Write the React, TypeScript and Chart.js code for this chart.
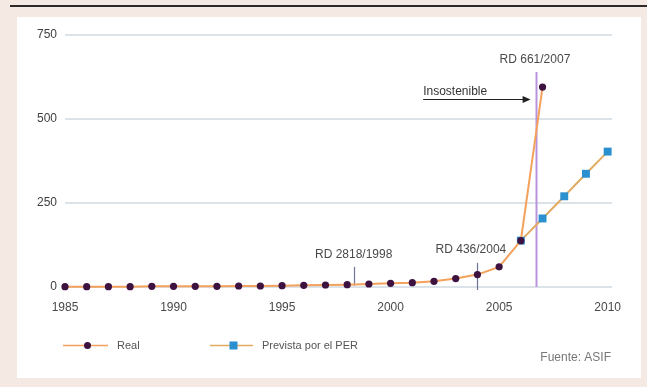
import { useEffect, useRef } from "react";
import { Chart, registerables } from "chart.js";

Chart.register(...registerables);

// Installed photovoltaic power in Spain (MW)
const years = [
  1985, 1986, 1987, 1988, 1989, 1990, 1991, 1992, 1993, 1994, 1995, 1996,
  1997, 1998, 1999, 2000, 2001, 2002, 2003, 2004, 2005, 2006, 2007,
];
const realValues = [
  1, 1, 1, 1, 2, 2, 2, 2, 3, 3, 4, 5, 6, 7, 9, 11, 13, 17, 25, 37, 60, 138, 595,
];
const plannedYears = [2006, 2007, 2008, 2009, 2010];
const plannedValues = [138, 204, 270, 337, 403];

const xTickYears = [1985, 1990, 1995, 2000, 2005, 2010];
const yTickValues = [0, 250, 500, 750];
const seriesNames = ["Real", "Prevista por el PER"];

// Regulatory decrees marked on the chart
const decreeLabels = ["RD 2818/1998", "RD 436/2004", "RD 661/2007"];
const decreeYears = [1998.3, 2004, 2006.7];
const decreeTop = [60, 72, 640];
const decreeBottom = [4, -9, 0];
const decreeLabelYears = [1998.3, 2003.7, 2006.65];
const decreeLabelValues = [95, 110, 676];

const warningText = "Insostenible";
const warningFrom = 2001.5;
const warningTo = 2006.45;
const warningValue = 560;
const sourceText = "Fuente: ASIF";

const FONT = "'Liberation Sans', Arial, sans-serif";
const REAL_LINE = "#f4a15c";
const REAL_POINT = "#3d1240";
const PLAN_LINE = "#e2ab62";
const PLAN_POINT = "#2b90cf";

const overlay = {
  id: "overlay",
  beforeDatasetsDraw(chart: any) {
    const { ctx, scales } = chart;
    const x = scales.x;
    const y = scales.y;
    ctx.save();
    decreeYears.forEach((yr, i) => {
      const px = Math.round(x.getPixelForValue(yr)) + 0.5;
      const last = i === decreeYears.length - 1;
      ctx.strokeStyle = last ? "#b693dc" : "#6d7598";
      ctx.lineWidth = last ? 2 : 1.2;
      ctx.beginPath();
      ctx.moveTo(px, y.getPixelForValue(decreeTop[i]));
      ctx.lineTo(px, y.getPixelForValue(decreeBottom[i]));
      ctx.stroke();
    });
    ctx.restore();
  },
  afterDraw(chart: any) {
    const { ctx, scales } = chart;
    const x = scales.x;
    const y = scales.y;
    ctx.save();
    ctx.font = `12px ${FONT}`;
    ctx.fillStyle = "#4a4a4a";
    ctx.textAlign = "center";
    ctx.textBaseline = "middle";
    decreeLabels.forEach((t, i) => {
      ctx.fillText(
        t,
        x.getPixelForValue(decreeLabelYears[i]),
        y.getPixelForValue(decreeLabelValues[i])
      );
    });

    // "Insostenible" with arrow pointing to the 2007 decree
    const ax0 = x.getPixelForValue(warningFrom);
    const ax1 = x.getPixelForValue(warningTo);
    const ay = Math.round(y.getPixelForValue(warningValue)) + 0.5;
    ctx.textAlign = "left";
    ctx.textBaseline = "alphabetic";
    ctx.fillStyle = "#333";
    ctx.fillText(warningText, ax0, ay - 5);
    ctx.strokeStyle = "#222";
    ctx.lineWidth = 1;
    ctx.beginPath();
    ctx.moveTo(ax0, ay);
    ctx.lineTo(ax1 - 6, ay);
    ctx.stroke();
    ctx.fillStyle = "#222";
    ctx.beginPath();
    ctx.moveTo(ax1, ay);
    ctx.lineTo(ax1 - 8, ay - 3.5);
    ctx.lineTo(ax1 - 8, ay + 3.5);
    ctx.closePath();
    ctx.fill();

    // Legend
    const ly = 345.5;
    const items = [
      { x0: 63, x1: 108, line: REAL_LINE, point: REAL_POINT, round: true },
      { x0: 210, x1: 253, line: PLAN_LINE, point: PLAN_POINT, round: false },
    ];
    ctx.font = `11px ${FONT}`;
    ctx.textBaseline = "middle";
    items.forEach((it, i) => {
      ctx.strokeStyle = it.line;
      ctx.lineWidth = 1.5;
      ctx.beginPath();
      ctx.moveTo(it.x0, ly);
      ctx.lineTo(it.x1, ly);
      ctx.stroke();
      const cx = (it.x0 + it.x1) / 2 + 2;
      ctx.fillStyle = it.point;
      if (it.round) {
        ctx.beginPath();
        ctx.arc(cx, ly, 3.5, 0, Math.PI * 2);
        ctx.fill();
      } else {
        ctx.fillRect(cx - 4, ly - 4, 8, 8);
      }
      ctx.fillStyle = "#555";
      ctx.textAlign = "left";
      ctx.fillText(seriesNames[i], it.x1 + 9, ly);
    });

    ctx.font = `12px ${FONT}`;
    ctx.fillStyle = "#777";
    ctx.textAlign = "right";
    ctx.fillText(sourceText, 611, 358);
    ctx.restore();
  },
};

export default function App() {
  const ref = useRef<HTMLCanvasElement>(null);

  useEffect(() => {
    const canvas = ref.current;
    if (!canvas) return;
    const chart = new Chart(canvas, {
      type: "line",
      data: {
        datasets: [
          {
            label: seriesNames[0],
            data: years.map((yr, i) => ({ x: yr, y: realValues[i] })),
            borderColor: REAL_LINE,
            backgroundColor: REAL_POINT,
            borderWidth: 2,
            pointRadius: 3.6,
            pointBorderWidth: 0,
            pointBackgroundColor: REAL_POINT,
            tension: 0,
            clip: false,
          },
          {
            label: seriesNames[1],
            data: plannedYears.map((yr, i) => ({ x: yr, y: plannedValues[i] })),
            borderColor: PLAN_LINE,
            backgroundColor: PLAN_POINT,
            borderWidth: 2,
            pointStyle: "rect",
            pointRadius: 5.6,
            pointBorderWidth: 0,
            pointBackgroundColor: PLAN_POINT,
            clip: false,
          },
        ],
      },
      options: {
        responsive: false,
        animation: false,
        devicePixelRatio: 1,
        layout: { padding: { left: 0, right: 35, top: 35, bottom: 50 } },
        plugins: {
          legend: { display: false },
          tooltip: { enabled: false },
        },
        scales: {
          x: {
            type: "linear",
            min: 1985,
            max: 2010.2,
            afterBuildTicks: (s: any) => {
              s.ticks = xTickYears.map((v) => ({ value: v }));
            },
            afterFit: (s: any) => {
              s.height = 50;
            },
            grid: { display: false },
            border: { display: false },
            ticks: {
              padding: 5,
              color: "#4a4a4a",
              font: { family: FONT, size: 12 },
              maxRotation: 0,
              autoSkip: false,
              callback: (v: any) => String(v),
            },
          },
          y: {
            type: "linear",
            min: 0,
            max: 750,
            afterBuildTicks: (s: any) => {
              s.ticks = yTickValues.map((v) => ({ value: v }));
            },
            afterFit: (s: any) => {
              s.width = 65;
            },
            grid: { color: "#dbe2e8", lineWidth: 2, drawTicks: false },
            border: { display: false },
            ticks: {
              padding: 8,
              color: "#3f3f3f",
              font: { family: FONT, size: 12 },
              callback: (v: any) => String(v),
            },
          },
        },
      },
      plugins: [overlay],
    } as any);
    return () => chart.destroy();
  }, []);

  return (
    <div
      style={{
        position: "fixed",
        left: 0,
        top: 0,
        width: 647,
        height: 387,
        background: "#f5eae3",
        overflow: "hidden",
      }}
    >
      <div
        style={{
          position: "absolute",
          left: 10,
          top: 5,
          width: 637,
          height: 2,
          background: "#2a2a2a",
        }}
      />
      <div
        style={{
          position: "absolute",
          left: 17,
          top: 17,
          width: 624,
          height: 361,
          background: "#ffffff",
        }}
      />
      <canvas
        ref={ref}
        width={647}
        height={387}
        style={{ position: "absolute", left: 0, top: 0 }}
      />
    </div>
  );
}
